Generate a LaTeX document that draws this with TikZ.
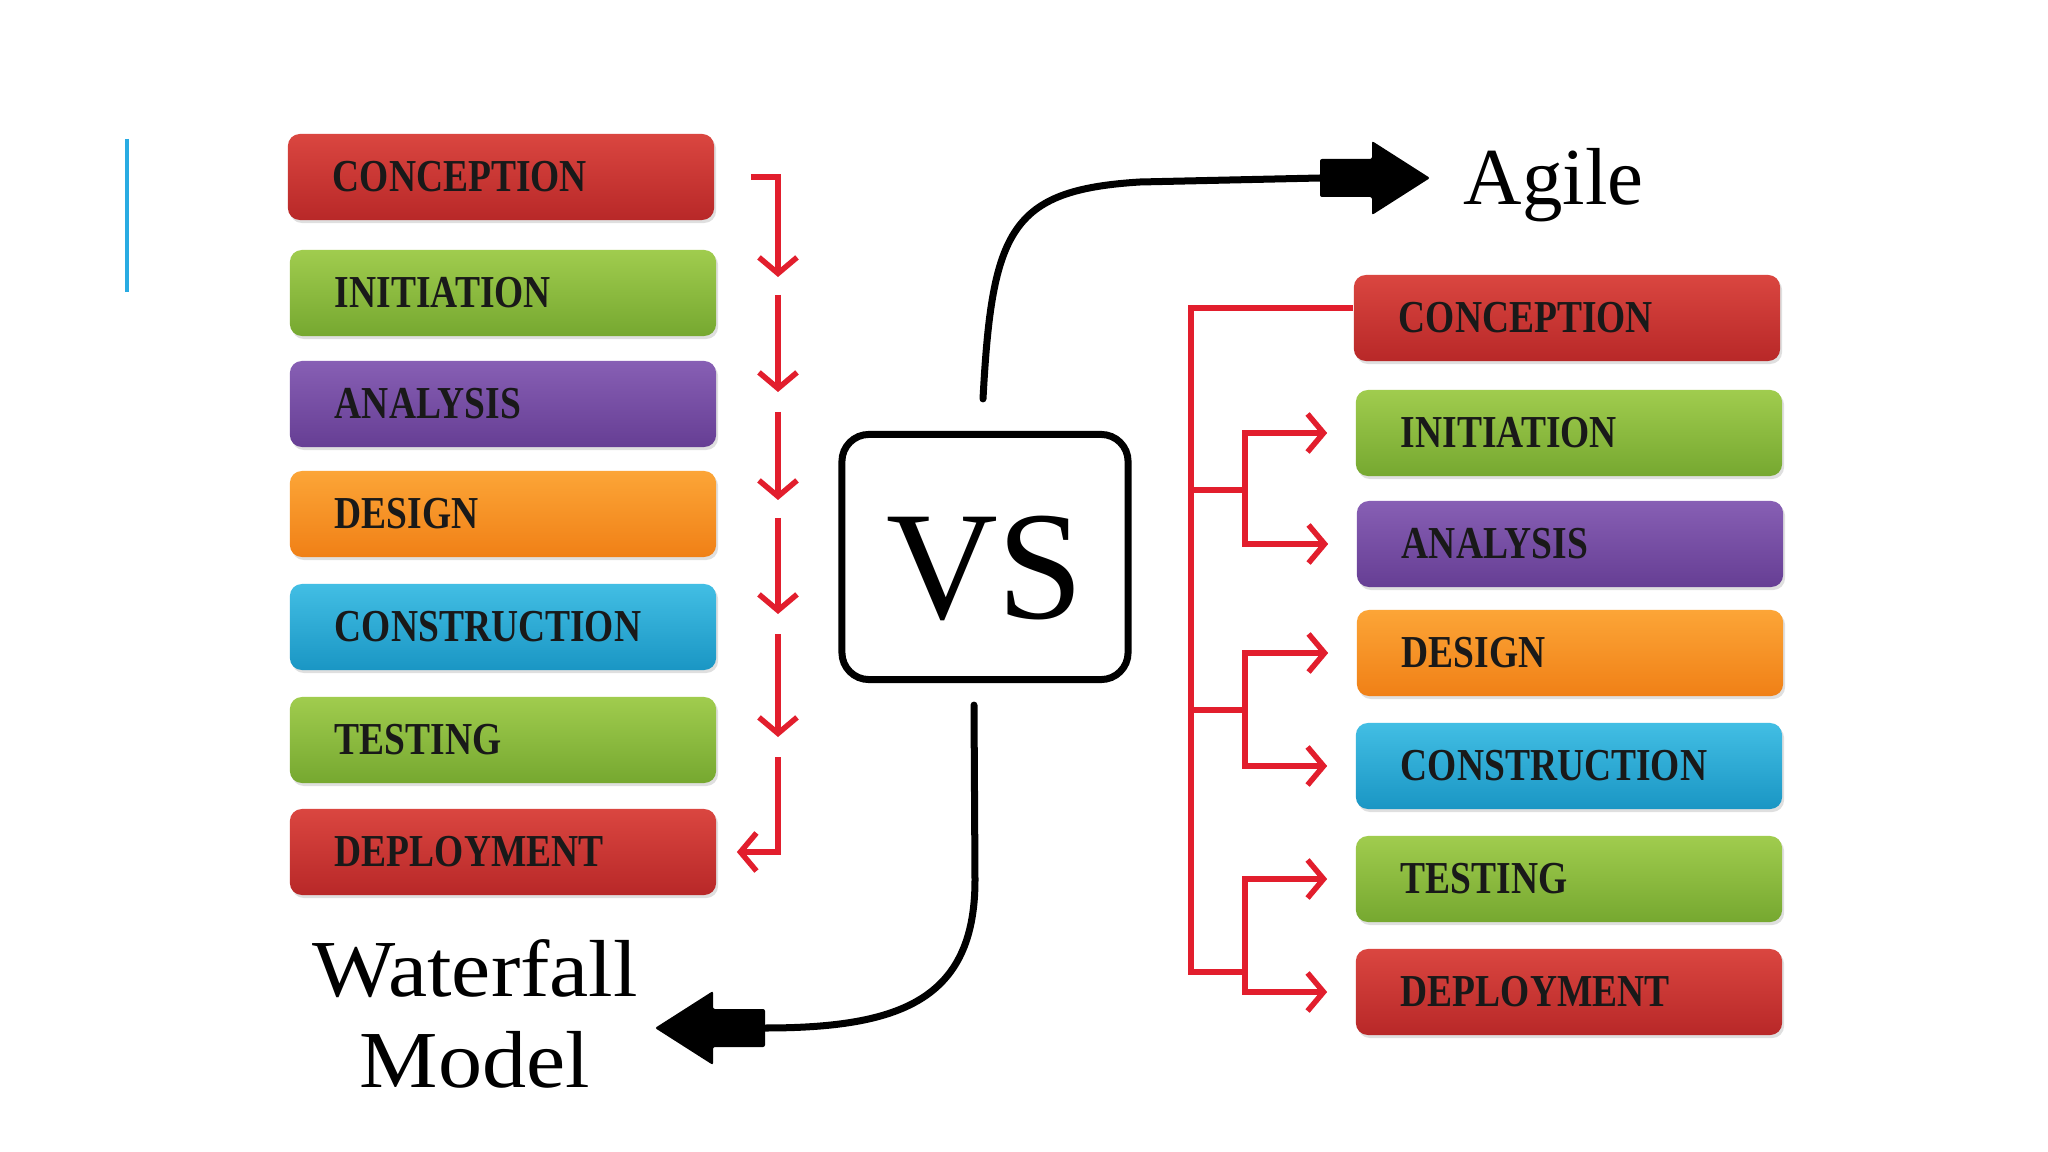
\documentclass[tikz,border=0pt]{standalone}
\usepackage{fontspec}
\setmainfont{Liberation Serif}
\newfontfamily\stagefont{Liberation Serif}[FakeStretch=0.82]
\newfontfamily\wideserif{Liberation Serif}[FakeStretch=1.09]
\usetikzlibrary{arrows.meta,shadows,calc}

\definecolor{redtop}{RGB}{218,70,64}
\definecolor{redbot}{RGB}{184,40,40}
\definecolor{greentop}{RGB}{160,204,78}
\definecolor{greenbot}{RGB}{118,168,48}
\definecolor{purpletop}{RGB}{135,95,180}
\definecolor{purplebot}{RGB}{102,62,148}
\definecolor{orangetop}{RGB}{252,165,55}
\definecolor{orangebot}{RGB}{240,128,22}
\definecolor{bluetop}{RGB}{66,190,228}
\definecolor{bluebot}{RGB}{26,150,196}
\definecolor{linkred}{RGB}{226,30,45}
\definecolor{accent}{RGB}{41,171,226}

\tikzset{
  stage/.style={rounded corners=0.12cm, minimum width=4.26cm, minimum height=0.86cm,
    text width=3.36cm, inner xsep=0.45cm, align=left, text=black!90,
    font=\stagefont\bfseries\fontsize{13}{15}\selectfont,
    drop shadow={shadow xshift=0.02cm, shadow yshift=-0.03cm, opacity=0.25}},
  redbox/.style={stage, top color=redtop, bottom color=redbot},
  greenbox/.style={stage, top color=greentop, bottom color=greenbot},
  purplebox/.style={stage, top color=purpletop, bottom color=purplebot},
  orangebox/.style={stage, top color=orangetop, bottom color=orangebot},
  bluebox/.style={stage, top color=bluetop, bottom color=bluebot},
  link/.style={linkred, line width=0.055cm},
  linkarrow/.style={link, -{Straight Barb[length=0.16cm,width=0.38cm]}},
  bigcurve/.style={line width=0.07cm, line cap=round},
  blockhead/.pic={\fill[rounded corners=0.02cm] (0,-19) -- (52,-19) -- (52,-37) -- (110,0) -- (52,37) -- (52,19) -- (0,19) -- cycle;}
}

\begin{document}
\begin{tikzpicture}[x=0.01cm, y=-0.01cm]
\useasboundingbox (0,0) rectangle (2048,1152);
\fill[white] (0,0) rectangle (2048,1152);
\draw[accent, line width=0.04cm] (127,139) -- (127,292);

% waterfall column
\node[redbox] (wf1) at (501,177) {CONCEPTION};
\node[greenbox] (wf2) at (503,293) {INITIATION};
\node[purplebox] (wf3) at (503,404) {ANALYSIS};
\node[orangebox] (wf4) at (503,514) {DESIGN};
\node[bluebox] (wf5) at (503,627) {CONSTRUCTION};
\node[greenbox] (wf6) at (503,740) {TESTING};
\node[redbox] (wf7) at (503,852) {DEPLOYMENT};

\foreach \i/\a/\b in {1/174/277, 2/295/392, 3/412/500, 4/518/614, 5/634/737, 6/757/853} {
  \coordinate (ws\i) at (778,\a);
  \coordinate (we\i) at (778,\b);
}
\draw[linkarrow] ([xshift=0.36cm]wf1.east) -| (we1);
\foreach \i in {2,...,5}
  \draw[linkarrow] (ws\i) -- (we\i);
\draw[linkarrow] (ws6) |- ([xshift=0.2cm]wf7.east);

% agile column
\node[redbox] (ag1) at (1567,318) {CONCEPTION};
\node[greenbox] (ag2) at (1569,433) {INITIATION};
\node[purplebox] (ag3) at (1570,544) {ANALYSIS};
\node[orangebox] (ag4) at (1570,653) {DESIGN};
\node[bluebox] (ag5) at (1569,766) {CONSTRUCTION};
\node[greenbox] (ag6) at (1569,879) {TESTING};
\node[redbox] (ag7) at (1569,992) {DEPLOYMENT};

\coordinate (trunk) at (1191,972);
\coordinate (j1) at (1245,490);
\coordinate (j2) at (1245,710);
\coordinate (j3) at (1245,972);
\draw[link] ([yshift=0.1cm]ag1.west) -| (trunk) -- (j3);
\draw[link] (trunk |- j1) -- (j1);
\draw[link] (trunk |- j2) -- (j2);
\foreach \j/\a/\b in {j1/2/3, j2/4/5, j3/6/7} {
  \draw[linkarrow, shorten >=0.28cm] (\j) |- (ag\a.west);
  \draw[linkarrow, shorten >=0.28cm] (\j) |- (ag\b.west);
}

% versus box and labels
\node[draw, line width=0.07cm, rounded corners=0.27cm, minimum width=2.86cm,
  minimum height=2.45cm, text height=1.25cm, inner sep=0pt,
  font=\fontsize{44}{50}\selectfont] (vs) at (985,557) {VS};
\node[font=\fontsize{23}{28}\selectfont, anchor=base west, inner sep=0pt] (agile) at (1463,205) {Agile};
\node[font=\wideserif\fontsize{23}{26}\selectfont, align=center, inner sep=0pt] (wfm) at (475,1014) {Waterfall\\Model};

\coordinate (agstub) at (1320,178);
\draw[bigcurve] ([xshift=-0.02cm, yshift=0.32cm]vs.north) .. controls (992,230) and (1010,190) .. (1140,182) -- (agstub);
\pic at (agstub) {blockhead};

\coordinate (wfstub) at (765,1028);
\draw[bigcurve] ([xshift=-0.11cm, yshift=-0.22cm]vs.south) -- (975,880) .. controls (975,1000) and (900,1028) .. (wfstub);
\pic[rotate=180] at (wfstub) {blockhead};
\end{tikzpicture}
\end{document}
